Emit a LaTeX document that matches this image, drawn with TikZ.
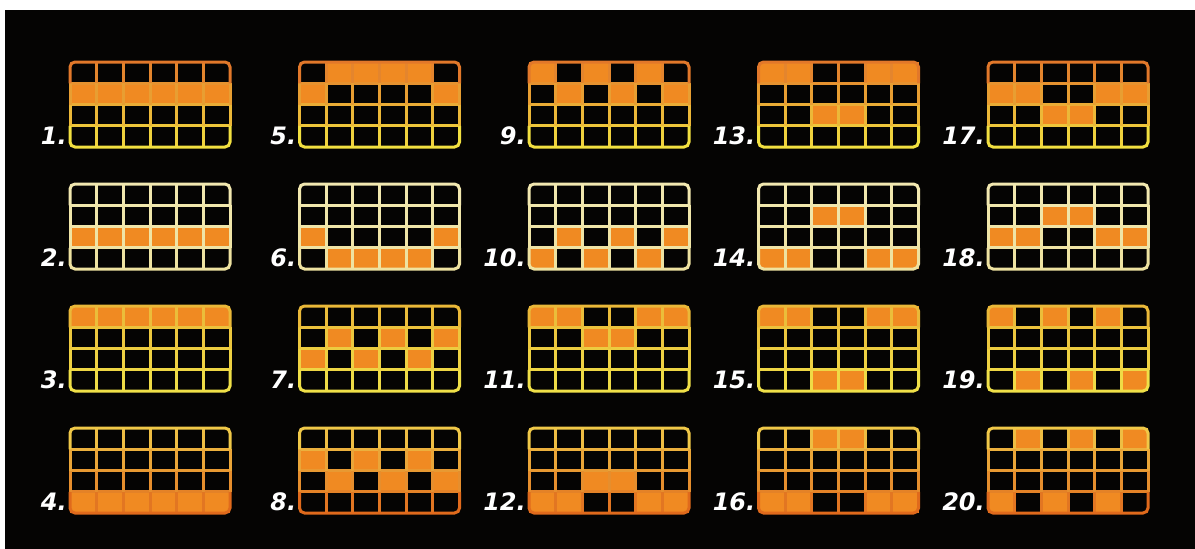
\documentclass[tikz,border=0pt]{standalone}
\usepackage{fontspec}
\setmainfont{Liberation Sans}
\newfontfamily\numfont{DejaVu Sans}
\usepackage{xcolor}
\usepackage{tikz}

\definecolor{bgblack}{HTML}{050403}
\definecolor{payorange}{HTML}{F08A22}
% frame colours, top and bottom, one pair per row of grids
\definecolor{top0}{HTML}{E2782A}\definecolor{bot0}{HTML}{F2E040}
\definecolor{top1}{HTML}{F2E8B0}\definecolor{bot1}{HTML}{EEE2A0}
\definecolor{top2}{HTML}{EAB838}\definecolor{bot2}{HTML}{F0E048}
\definecolor{top3}{HTML}{F0C848}\definecolor{bot3}{HTML}{E06A1C}

\tikzset{
  gridline/.style={line width=3pt},
  numlabel/.style={text=white, font=\numfont\fontsize{24}{24}\selectfont\bfseries\itshape, anchor=base east, inner sep=0pt}
}

\begin{document}
\begin{tikzpicture}[x=1pt,y=-1pt]
% Background
\fill[white] (0,0) rectangle (1195,549);
\fill[bgblack] (5,10) rectangle (1195,549);
% Paylines: number / filled cells (row/column)
\foreach \n/\cells in {
  1/{2/1,2/2,2/3,2/4,2/5,2/6},
  2/{3/1,3/2,3/3,3/4,3/5,3/6},
  3/{1/1,1/2,1/3,1/4,1/5,1/6},
  4/{4/1,4/2,4/3,4/4,4/5,4/6},
  5/{1/2,1/3,1/4,1/5,2/1,2/6},
  6/{3/1,3/6,4/2,4/3,4/4,4/5},
  7/{2/2,2/4,2/6,3/1,3/3,3/5},
  8/{2/1,2/3,2/5,3/2,3/4,3/6},
  9/{1/1,1/3,1/5,2/2,2/4,2/6},
  10/{3/2,3/4,3/6,4/1,4/3,4/5},
  11/{1/1,1/2,1/5,1/6,2/3,2/4},
  12/{4/1,4/2,4/5,4/6,3/3,3/4},
  13/{1/1,1/2,1/5,1/6,3/3,3/4},
  14/{2/3,2/4,4/1,4/2,4/5,4/6},
  15/{1/1,1/2,1/5,1/6,4/3,4/4},
  16/{1/3,1/4,4/1,4/2,4/5,4/6},
  17/{2/1,2/2,2/5,2/6,3/3,3/4},
  18/{2/3,2/4,3/1,3/2,3/5,3/6},
  19/{1/1,1/3,1/5,4/2,4/4,4/6},
  20/{1/2,1/4,1/6,4/1,4/3,4/5}}{
  \pgfmathtruncatemacro{\gc}{(\n-1)/4}
  \pgfmathtruncatemacro{\gr}{mod(\n-1,4)}
  \pgfmathsetmacro{\xa}{70+229.5*\gc}
  \pgfmathsetmacro{\ya}{62+122*\gr}
  % filled cells
  \foreach \r/\c in \cells
    \fill[payorange] ({\xa+(\c-1)*26.667},{\ya+(\r-1)*21.25}) rectangle +(26.667,21.25);
  % inner horizontal lines
  \foreach \i in {1,2,3}{
    \pgfmathtruncatemacro{\p}{\i*25}
    \draw[gridline, bot\gr!\p!top\gr] ({\xa},{\ya+\i*21.25}) -- +(160,0);
  }
  % vertical lines, row by row
  \foreach \j in {0,...,3}{
    \pgfmathtruncatemacro{\p}{\j*25+12}
    \foreach \k in {1,...,5}
      \draw[gridline, bot\gr!\p!top\gr] ({\xa+\k*26.667},{\ya+\j*21.25}) -- +(0,21.25);
  }
  \foreach \j in {1,2}{
    \pgfmathtruncatemacro{\p}{\j*25+12}
    \draw[gridline, bot\gr!\p!top\gr] ({\xa},{\ya+\j*21.25}) -- +(0,21.25);
    \draw[gridline, bot\gr!\p!top\gr] ({\xa+160},{\ya+\j*21.25}) -- +(0,21.25);
  }
  % outer frame
  \draw[gridline, rounded corners=5pt, top\gr] ({\xa},{\ya+21.25}) -- ({\xa},{\ya}) -- ({\xa+160},{\ya}) -- ({\xa+160},{\ya+21.25});
  \draw[gridline, rounded corners=5pt, bot\gr] ({\xa},{\ya+63.75}) -- ({\xa},{\ya+85}) -- ({\xa+160},{\ya+85}) -- ({\xa+160},{\ya+63.75});
  \node[numlabel] (lbl\n) at ({\xa-3},{\ya+82}) {\n.};
}
\end{tikzpicture}
\end{document}
